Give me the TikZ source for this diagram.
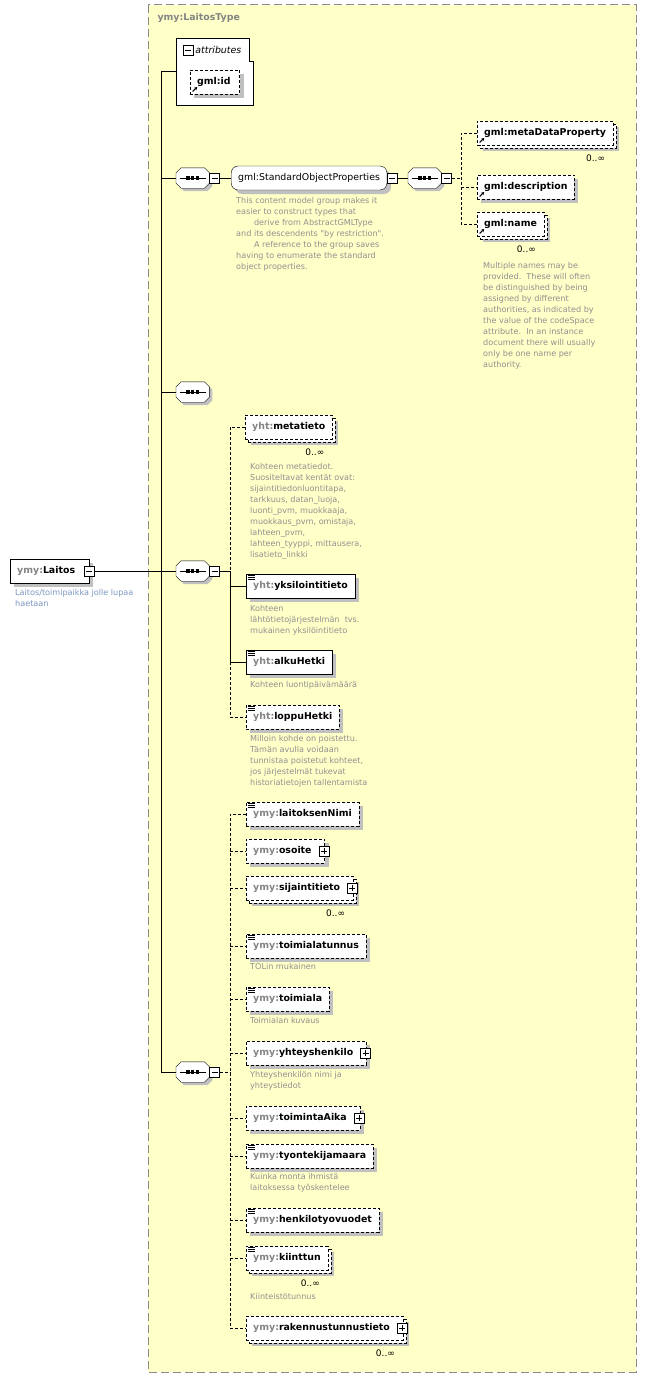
\documentclass[tikz,border=0pt]{standalone}
\usepackage{fontspec}
\setmainfont{DejaVu Sans}[Ligatures=TeXOff]
\usetikzlibrary{shadows,positioning,arrows.meta}

\definecolor{typefill}{HTML}{FFFFC8}
\definecolor{typeline}{HTML}{8A8A8A}
\definecolor{shade}{HTML}{C0C0C0}
\definecolor{prefix}{HTML}{848484}
\definecolor{doctext}{HTML}{909090}
\definecolor{rootdoc}{HTML}{7A96C0}
\newcommand{\pfx}[1]{\textcolor{prefix}{#1}}

\begin{document}
\begin{tikzpicture}[x=1pt, y=-1pt,
    shadowed/.style={drop shadow={shadow xshift=#1, shadow yshift=-#1, fill=shade, opacity=1}},
    shadowed/.default=4pt,
    boxbase/.style={draw, fill=white, anchor=west, minimum height=24pt, inner xsep=7pt, inner ysep=0pt,
      font=\fontsize{9.4}{11}\selectfont\bfseries},
    elem/.style={boxbase, shadowed},
    optelem/.style={boxbase, shadowed, dash pattern=on 3pt off 2pt},
    multi/.style={boxbase, shadowed=6pt,
      copy shadow={shadow xshift=3pt, shadow yshift=-3pt, fill=white, draw=black, dash pattern=on 3pt off 2pt},
      dash pattern=on 3pt off 2pt},
    groupbox/.style={boxbase, rounded corners=7pt, shadowed, font=\fontsize{9.4}{11}\selectfont},
    docicon/.style={path picture={
        \foreach \k in {1.5,3.5,5.5}
          \draw[solid, line width=.8pt] ([shift={(2pt,-\k pt)}]path picture bounding box.north west) -- ++(7,0);}},
    reficon/.style={path picture={
        \draw[solid, line width=1.1pt, -{Stealth[length=3pt, width=3.5pt]}]
          ([shift={(2.5pt,2.5pt)}]path picture bounding box.south west) -- ++(4.5,-4.5);}},
    seqbox/.style={anchor=west, minimum width=33pt, minimum height=20pt, inner sep=0pt},
    seqline/.style={draw, fill=white, shadowed=3pt},
    pmbox/.style={draw, solid, fill=white, minimum size=10pt, inner sep=0pt},
    minusbox/.style={pmbox, path picture={
        \draw ([xshift=-3pt]path picture bounding box.center) -- ([xshift=3pt]path picture bounding box.center);}},
    plusbox/.style={pmbox, path picture={
        \draw ([xshift=-3pt]path picture bounding box.center) -- ([xshift=3pt]path picture bounding box.center);
        \draw ([yshift=-3pt]path picture bounding box.center) -- ([yshift=3pt]path picture bounding box.center);}},
    docnote/.style={anchor=north west, align=left, inner sep=0pt, text=doctext, font=\fontsize{8.1}{11}\selectfont},
    mult/.style={anchor=east, inner sep=0pt, font=\fontsize{9}{11}\selectfont},
    optline/.style={dash pattern=on 3pt off 2pt}
  ]
  \useasboundingbox (0,0) rectangle (647,1378);

  % complex type frame
  \draw[draw=typeline, fill=typefill, line width=1pt, dash pattern=on 8pt off 4pt] (148,5) rectangle (636,1372);
  \node[anchor=west, text=prefix, font=\fontsize{9.4}{11}\selectfont\bfseries] (typename) at (154,18) {ymy:LaitosType};

  % attributes
  \node[anchor=north west, minimum width=77pt, minimum height=67pt, inner sep=0pt] (attrs) at (176,38) {};
  \draw[fill=white] (attrs.north west) -- ++(73,0) -- ++(0,23) -- ++(4,0) |- (attrs.south west) -- cycle;
  \node[minusbox] (attrsm) at (188,50) {};
  \node[anchor=west, inner sep=0pt, font=\fontsize{9.4}{11}\selectfont\itshape] (attrslbl) at ([xshift=2pt]attrsm.east) {attributes};
  \node[optelem, reficon] (gmlid) at (190,82) {gml:id\hspace*{2pt}};

  % sequences
  \node[seqbox] (s1) at (176,178) {};
  \node[seqbox] (s2) at (408,178) {};
  \node[seqbox] (s0) at (176,392) {};
  \node[seqbox] (s3) at (176,571) {};
  \node[seqbox] (s4) at (176,1072) {};
  \foreach \s in {s1,s2,s0,s3,s4} {
    \draw[seqline] ([xshift=5pt]\s.north west) -- ([xshift=-5pt]\s.north east) -- ([yshift=-5pt]\s.north east)
      -- ([yshift=5pt]\s.south east) -- ([xshift=-5pt]\s.south east) -- ([xshift=5pt]\s.south west)
      -- ([yshift=5pt]\s.south west) -- ([yshift=-5pt]\s.north west) -- cycle;
    \draw ([xshift=-13pt]\s.center) -- ([xshift=13pt]\s.center);
    \foreach \d in {-4.6,0,4.6}
      \fill ([xshift=\d pt]\s.center) +(-1.7,-1.7) rectangle +(1.7,1.7);
  }
  \foreach \s in {s1,s2,s3,s4}
    \node[minusbox, right=0pt of \s] (\s m) {};

  % root element
  \node[elem] (laitos) at (10,571) {\pfx{ymy:}Laitos\hspace*{7pt}};
  \node[minusbox] (laitosm) at (laitos.east) {};
  \node[docnote, text=rootdoc] (laitosdoc) at (15,589) {Laitos/toimipaikka jolle lupaa\\haetaan};

  % gml group
  \node[groupbox] (grp) at (231,178) {gml:StandardObjectProperties};
  \node[minusbox, right=0pt of grp] (grpm) {};
  \node[docnote] (grpdoc) at (236,197) {This content model group makes it\\easier to construct types that\\\hspace*{2.2em}derive from AbstractGMLType\\and its descendents "by restriction".\\\hspace*{2.2em}A reference to the group saves\\having to enumerate the standard\\object properties.};
  \node[multi, reficon] (mdp) at (477,133) {gml:metaDataProperty};
  \node[mult] (mdpc) at ([shift={(-8pt,-13pt)}]mdp.south east) {0..∞};
  \node[optelem, reficon] (gdesc) at (477,187) {gml:description};
  \node[multi, reficon] (gname) at (477,224) {gml:name};
  \node[mult] (gnamec) at ([shift={(-8pt,-13pt)}]gname.south east) {0..∞};
  \node[docnote] (gnamedoc) at (483,262) {Multiple names may be\\provided.\ \ These will often\\be distinguished by being\\assigned by different\\authorities, as indicated by\\the value of the codeSpace\\attribute.\ \ In an instance\\document there will usually\\only be one name per\\authority.};

  % yht elements
  \node[multi] (meta) at (245,427) {\pfx{yht:}metatieto};
  \node[mult] (metac) at ([shift={(-8pt,-13pt)}]meta.south east) {0..∞};
  \node[docnote] (metadoc) at (250,463) {Kohteen metatiedot.\\Suositeltavat kentät ovat:\\sijaintitiedonluontitapa,\\tarkkuus, datan\_luoja,\\luonti\_pvm, muokkaaja,\\muokkaus\_pvm, omistaja,\\lahteen\_pvm,\\lahteen\_tyyppi, mittausera,\\lisatieto\_linkki};
  \node[elem, docicon] (yks) at (246,586) {\pfx{yht:}yksilointitieto};
  \node[docnote] (yksdoc) at (250,605) {Kohteen\\lähtötietojärjestelmän\ \ tvs.\\mukainen yksilöintitieto};
  \node[elem, docicon] (alku) at (246,662) {\pfx{yht:}alkuHetki};
  \node[docnote] (alkudoc) at (250,681) {Kohteen luontipäivämäärä};
  \node[optelem, docicon] (loppu) at (246,717) {\pfx{yht:}loppuHetki};
  \node[docnote] (loppudoc) at (250,735) {Milloin kohde on poistettu.\\Tämän avulla voidaan\\tunnistaa poistetut kohteet,\\jos järjestelmät tukevat\\historiatietojen tallentamista};

  % ymy elements
  \node[optelem, docicon] (nimi) at (246,814) {\pfx{ymy:}laitoksenNimi};
  \node[optelem] (osoite) at (246,851) {\pfx{ymy:}osoite\hspace*{6pt}};
  \node[plusbox] (osoitep) at ([xshift=-1pt]osoite.east) {};
  \node[multi] (sijainti) at (246,888) {\pfx{ymy:}sijaintitieto\hspace*{6pt}};
  \node[plusbox] (sijaintip) at ([xshift=-1pt]sijainti.east) {};
  \node[mult] (sijaintic) at ([shift={(-8pt,-13pt)}]sijainti.south east) {0..∞};
  \node[optelem, docicon] (tunnus) at (246,946) {\pfx{ymy:}toimialatunnus};
  \node[docnote] (tunnusdoc) at (250,963) {TOLin mukainen};
  \node[optelem, docicon] (toimiala) at (246,999) {\pfx{ymy:}toimiala};
  \node[docnote] (toimialadoc) at (250,1017) {Toimialan kuvaus};
  \node[optelem] (yhteys) at (246,1053) {\pfx{ymy:}yhteyshenkilo\hspace*{6pt}};
  \node[plusbox] (yhteysp) at ([xshift=-1pt]yhteys.east) {};
  \node[docnote] (yhteysdoc) at (250,1071) {Yhteyshenkilön nimi ja\\yhteystiedot};
  \node[optelem] (aika) at (246,1118) {\pfx{ymy:}toimintaAika\hspace*{6pt}};
  \node[plusbox] (aikap) at ([xshift=-1pt]aika.east) {};
  \node[optelem, docicon] (maara) at (246,1156) {\pfx{ymy:}tyontekijamaara};
  \node[docnote] (maaradoc) at (250,1173) {Kuinka monta ihmistä\\laitoksessa työskentelee};
  \node[optelem, docicon] (vuodet) at (246,1220) {\pfx{ymy:}henkilotyovuodet};
  \node[multi, docicon] (kiint) at (246,1258) {\pfx{ymy:}kiinttun};
  \node[mult] (kiintc) at ([shift={(-8pt,-13pt)}]kiint.south east) {0..∞};
  \node[docnote] (kiintdoc) at (250,1293) {Kiinteistötunnus};
  \node[multi] (rak) at (246,1328) {\pfx{ymy:}rakennustunnustieto\hspace*{6pt}};
  \node[plusbox] (rakp) at ([xshift=-1pt]rak.east) {};
  \node[mult] (rakc) at ([shift={(-8pt,-13pt)}]rak.south east) {0..∞};

  % connectors
  \coordinate (trunk) at (161,0);
  \draw (attrs.west) -- (attrs.west -| trunk) -- (trunk |- s4.west) -- (s4.west);
  \foreach \s in {s1,s0,s3}
    \draw (trunk |- \s.west) -- (\s.west);
  \draw (laitosm.east) -- (s3.west);
  \draw (s1m.east) -- (grp.west);
  \draw (grpm.east) -- (s2.west);

  \coordinate (b2) at (461,178);
  \draw[optline] (s2m.east) -- (b2);
  \draw[optline] (mdp.west) -| (b2 |- gname.west) -- (gname.west);
  \draw[optline] (b2 |- gdesc.west) -- (gdesc.west);

  \coordinate (b3) at (230,571);
  \draw (s3m.east) -- (b3);
  \draw[optline] (meta.west) -| (b3);
  \draw (b3) |- (yks.west);
  \draw (b3 |- yks.west) |- (alku.west);
  \draw[optline] (b3 |- alku.west) |- (loppu.west);

  \coordinate (b4) at (230,1072);
  \draw[optline] (s4m.east) -- (b4);
  \draw[optline] (nimi.west) -| (b4 |- rak.west) -- (rak.west);
  \foreach \e in {osoite,sijainti,tunnus,toimiala,yhteys,aika,maara,vuodet,kiint}
    \draw[optline] (b4 |- \e.west) -- (\e.west);
\end{tikzpicture}
\end{document}
